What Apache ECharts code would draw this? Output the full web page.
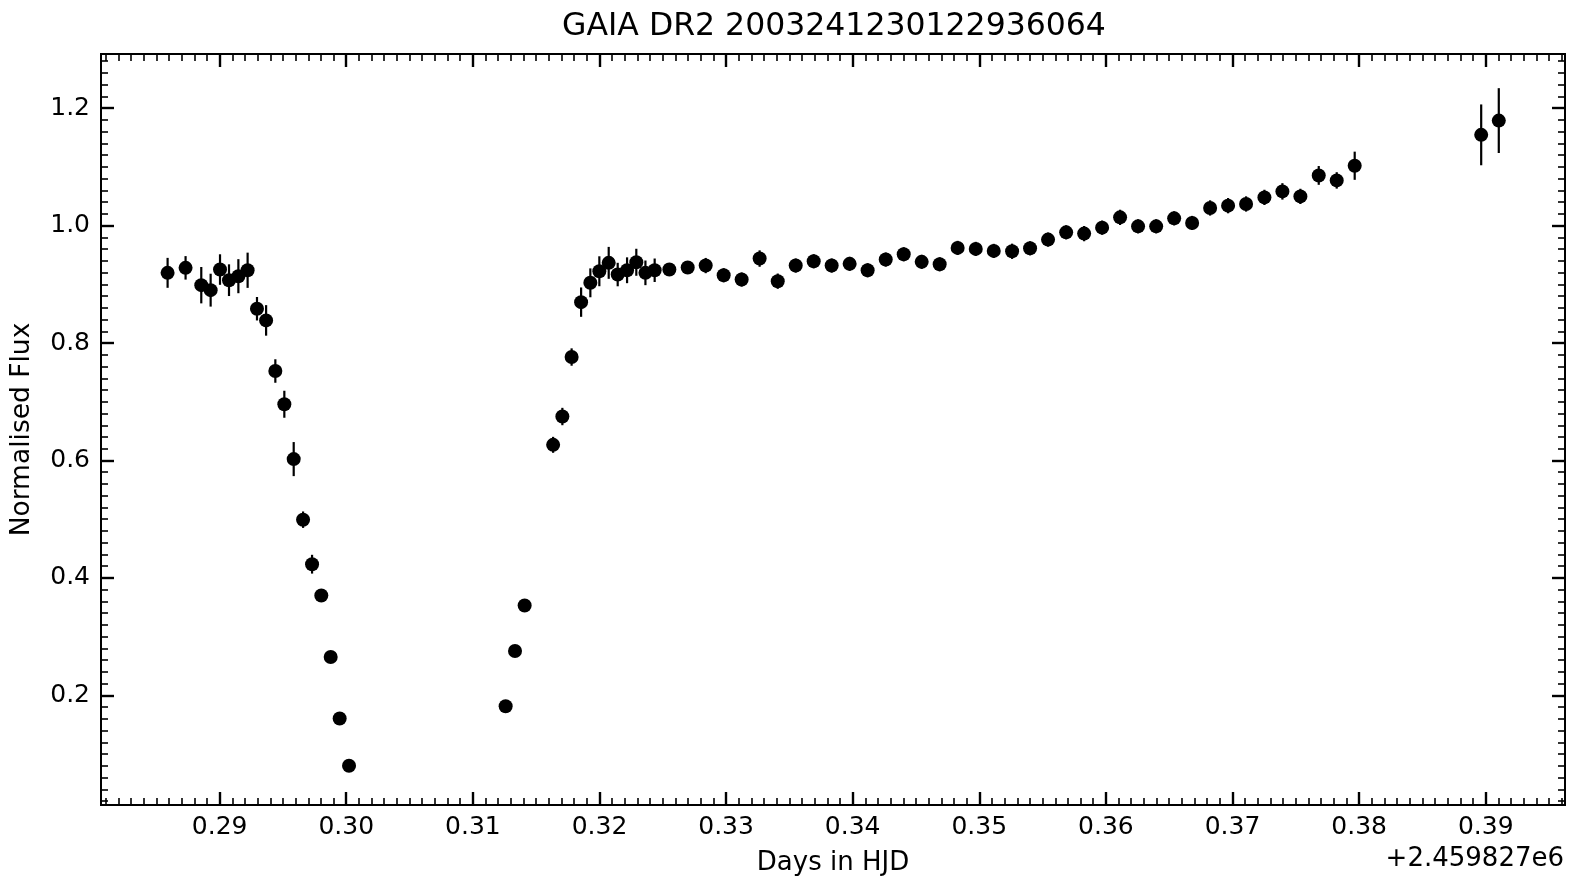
<!DOCTYPE html>
<html><head><meta charset="utf-8">
<script src="https://cdn.jsdelivr.net/npm/echarts@6/dist/echarts.min.js"></script>
<style>html,body{margin:0;padding:0;background:#fff}#c{width:1569px;height:881px}</style>
</head><body><div id="c"></div>
<script>
const chartTitle = 'GAIA DR2 2003241230122936064';
const xName = 'Days in HJD';
const yName = 'Normalised Flux';
const xOffsetText = '+2.459827e6';

const hjd = [
  0.28589, 0.28731, 0.28855, 0.28929, 0.29003, 0.29074, 0.29148, 0.29221, 0.29295, 0.29367,
  0.29440, 0.29511, 0.29585, 0.29659, 0.29730, 0.29803, 0.29877, 0.29948, 0.30022,
  0.31259, 0.31333, 0.31409,
  0.31634, 0.31707, 0.31780, 0.31855, 0.31928, 0.31999, 0.32073, 0.32144, 0.32218, 0.32291, 0.32363, 0.32436,
  0.32552, 0.32697, 0.32839, 0.32981, 0.33123, 0.33265, 0.33408, 0.33550, 0.33692, 0.33834, 0.33976, 0.34118,
  0.34261, 0.34403, 0.34545, 0.34687, 0.34829, 0.34972, 0.35114, 0.35259, 0.35401, 0.35543, 0.35686, 0.35828, 0.35970,
  0.36112, 0.36254, 0.36397, 0.36539, 0.36681, 0.36823, 0.36965, 0.37107, 0.37252, 0.37394, 0.37536, 0.37681, 0.37823, 0.37965,
  0.38964, 0.39103
];
const flux = [
  0.9196, 0.9281, 0.8986, 0.8901, 0.9252, 0.9071, 0.9139, 0.9240, 0.8585, 0.8386,
  0.7524, 0.6958, 0.6024, 0.4992, 0.4234, 0.3701, 0.2654, 0.1606, 0.0802,
  0.1815, 0.2756, 0.3531,
  0.6267, 0.6749, 0.7762, 0.8697, 0.9026, 0.9223, 0.9366, 0.9167, 0.9240, 0.9376, 0.9196, 0.9240,
  0.9252, 0.9286, 0.9320, 0.9155, 0.9082, 0.9439, 0.9054, 0.9320, 0.9393, 0.9320, 0.9349, 0.9240,
  0.9422, 0.9512, 0.9383, 0.9342, 0.9621, 0.9604, 0.9570, 0.9563, 0.9614, 0.9762, 0.9886, 0.9864, 0.9966,
  1.0141, 0.9988, 0.9988, 1.0124, 1.0046, 1.0301, 1.0340, 1.0369, 1.0481, 1.0583, 1.0498, 1.0855, 1.0770, 1.1020,
  1.1546, 1.1789
];
const fluxErr = [
  0.0255, 0.0200, 0.0310, 0.0280, 0.0260, 0.0270, 0.0290, 0.0300, 0.0200, 0.0260,
  0.0200, 0.0230, 0.0290, 0.0140, 0.0160, 0.0100, 0.0080, 0.0060, 0.0050,
  0.0060, 0.0060, 0.0070,
  0.0136, 0.0148, 0.0148, 0.0250, 0.0246, 0.0255, 0.0272, 0.0200, 0.0220, 0.0230, 0.0210, 0.0200,
  0.0110, 0.0110, 0.0130, 0.0120, 0.0120, 0.0140, 0.0130, 0.0120, 0.0120, 0.0120, 0.0120, 0.0120,
  0.0120, 0.0120, 0.0120, 0.0120, 0.0120, 0.0120, 0.0120, 0.0130, 0.0120, 0.0120, 0.0120, 0.0130, 0.0120,
  0.0130, 0.0120, 0.0120, 0.0120, 0.0120, 0.0130, 0.0130, 0.0130, 0.0130, 0.0140, 0.0130, 0.0160, 0.0140, 0.0240,
  0.0518, 0.0552
];

const xTicks = [0.29, 0.30, 0.31, 0.32, 0.33, 0.34, 0.35, 0.36, 0.37, 0.38, 0.39];
const yTicks = [0.2, 0.4, 0.6, 0.8, 1.0, 1.2];
const xMin = 0.28063, xMax = 0.39626;
const yMin = 0.0133, yMax = 1.2923;

function minorList(lo, hi, step) {
  const out = [];
  const start = Math.ceil(lo / step - 1e-9);
  const end = Math.floor(hi / step + 1e-9);
  for (let k = start; k <= end; k++) out.push(+(k * step).toFixed(6));
  return out;
}
const xMinor = minorList(xMin, xMax, 0.001);
const yMinor = minorList(yMin, yMax, 0.02);

const FONT = 'DejaVu Sans';
const BLACK = '#000';

function mkAxis(kind, position, ticks, len, width, withLabel, extra) {
  const isX = kind === 'x';
  const ax = {
    type: 'value',
    position: position,
    min: isX ? xMin : yMin,
    max: isX ? xMax : yMax,
    splitLine: { show: false },
    axisLine: { show: true, onZero: false, lineStyle: { color: BLACK, width: 2 } },
    axisTick: { show: true, inside: true, length: len, customValues: ticks, lineStyle: { color: BLACK, width: width } },
    axisLabel: withLabel ? {
      show: true, customValues: ticks, color: BLACK, fontFamily: FONT, fontSize: 25,
      margin: isX ? 10 : 11,
      formatter: v => isX ? v.toFixed(2) : v.toFixed(1)
    } : { show: false }
  };
  return Object.assign(ax, extra || {});
}

const errData = hjd.map((x, i) => [x, flux[i] - fluxErr[i], flux[i] + fluxErr[i]]);
const ptData = hjd.map((x, i) => [x, flux[i]]);

const chart = echarts.init(document.getElementById('c'), null, { renderer: 'canvas' });
chart.setOption({
  animation: false,
  backgroundColor: '#fff',
  title: {
    text: chartTitle, left: 829, top: 6, textAlign: 'center',
    textStyle: { fontFamily: FONT, fontSize: 31.5, fontWeight: 'normal', color: BLACK }
  },
  grid: { left: 101, right: 4, top: 54, bottom: 74 },
  xAxis: [
    mkAxis('x', 'bottom', xTicks, 13, 2.4, true, {
      name: xName, nameLocation: 'middle', nameGap: 45,
      nameTextStyle: { fontFamily: FONT, fontSize: 26, color: BLACK }
    }),
    mkAxis('x', 'bottom', xMinor, 7, 1.6, false),
    mkAxis('x', 'top', xTicks, 13, 2.4, false),
    mkAxis('x', 'top', xMinor, 7, 1.6, false)
  ],
  yAxis: [
    mkAxis('y', 'left', yTicks, 13, 2.4, true, {
      name: yName, nameLocation: 'middle', nameGap: 65,
      nameTextStyle: { fontFamily: FONT, fontSize: 26.5, color: BLACK }
    }),
    mkAxis('y', 'left', yMinor, 7, 1.6, false),
    mkAxis('y', 'right', yTicks, 13, 2.4, false),
    mkAxis('y', 'right', yMinor, 7, 1.6, false)
  ],
  graphic: [{
    type: 'text', right: 5, top: 846,
    style: { text: xOffsetText, fontFamily: FONT, fontSize: 26, fill: BLACK }
  }],
  series: [
    {
      type: 'custom', xAxisIndex: 0, yAxisIndex: 0, z: 2,
      data: errData,
      encode: { x: 0, y: [1, 2] },
      renderItem: (params, api) => {
        const x = api.value(0);
        const p1 = api.coord([x, api.value(1)]);
        const p2 = api.coord([x, api.value(2)]);
        return { type: 'line', shape: { x1: p1[0], y1: p1[1], x2: p2[0], y2: p2[1] },
                 style: { stroke: BLACK, lineWidth: 2.2 } };
      }
    },
    {
      type: 'scatter', xAxisIndex: 0, yAxisIndex: 0, z: 3,
      data: ptData, symbol: 'circle', symbolSize: 14,
      itemStyle: { color: BLACK, opacity: 1 }
    }
  ]
});
</script>
</body></html>
